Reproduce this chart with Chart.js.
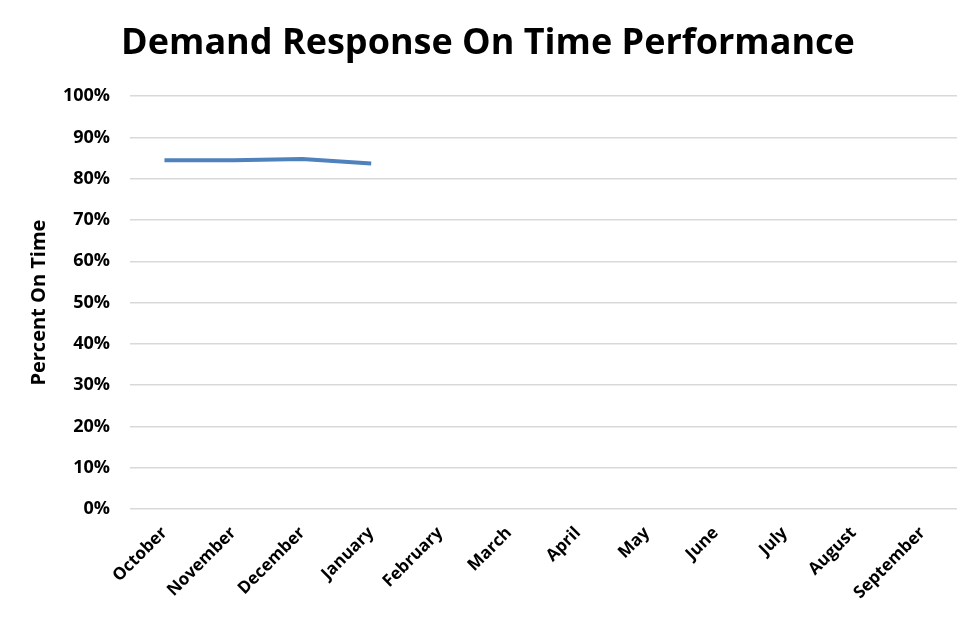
<!DOCTYPE html>
<html>
<head>
<meta charset="utf-8">
<script src="https://cdn.jsdelivr.net/npm/chart.js@4.4.0/dist/chart.umd.min.js"></script>
<style>
  html, body { margin: 0; padding: 0; background: #fff; }
  #wrap { width: 976px; height: 619px; }
</style>
</head>
<body>
<div id="wrap"><canvas id="chart" width="976" height="619"></canvas></div>
<script>
const months = ["October", "November", "December", "January", "February", "March",
  "April", "May", "June", "July", "August", "September"];
const onTime = [84.5, 84.5, 84.8, 83.7, null, null, null, null, null, null, null, null];
const yTicks = [0, 10, 20, 30, 40, 50, 60, 70, 80, 90, 100];

const fontFamily = "'Open Sans', 'Noto Sans', sans-serif";

new Chart(document.getElementById("chart"), {
  type: "line",
  data: {
    labels: months,
    datasets: [{
      data: onTime,
      borderColor: "#4F81BD",
      borderWidth: 4,
      pointRadius: 0,
      tension: 0,
      spanGaps: false,
    }],
  },
  options: {
    responsive: false,
    animation: false,
    layout: { padding: { left: 19, right: 19, top: 0, bottom: 0 } },
    plugins: {
      legend: { display: false },
      tooltip: { enabled: false },
      title: {
        display: true,
        text: "Demand Response On Time Performance",
        color: "#000",
        font: { family: fontFamily, size: 36, weight: "bold" },
        padding: { top: 22, bottom: 31 },
      },
    },
    scales: {
      x: {
        offset: true,
        grid: { display: false, offset: true },
        border: { display: false },
        ticks: {
          color: "#000",
          font: { family: fontFamily, size: 17, weight: "bold" },
          maxRotation: 45,
          minRotation: 45,
          autoSkip: false,
          padding: 6,
        },
        afterFit: (scale) => { scale.height = 110; },
      },
      y: {
        min: 0,
        max: 100,
        afterBuildTicks: (scale) => { scale.ticks = yTicks.map(v => ({ value: v })); },
        grid: { color: "#D9D9D9", lineWidth: 1.5, drawTicks: false },
        border: { display: false },
        ticks: {
          color: "#000",
          font: { family: fontFamily, size: 18, weight: "bold" },
          padding: 20,
          callback: (v) => v + "%",
        },
        title: {
          display: true,
          text: "Percent On Time",
          color: "#000",
          font: { family: fontFamily, size: 20, weight: "bold" },
          padding: { top: 8, bottom: 0 },
        },
        afterFit: (scale) => { scale.width = 111; },
      },
    },
  },
});
</script>
</body>
</html>
